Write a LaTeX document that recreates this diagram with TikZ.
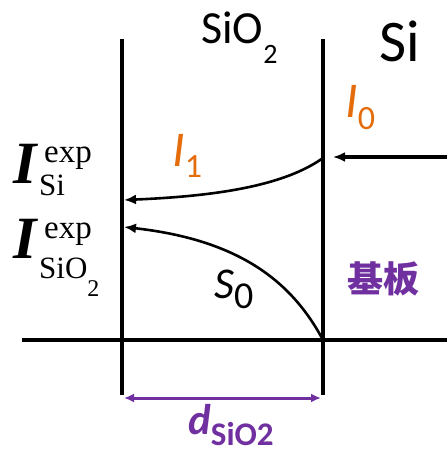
\documentclass[tikz,border=0pt]{standalone}
\usepackage{fontspec}
\setmainfont{Carlito}
\newfontfamily\tms{Liberation Serif}
\newfontfamily\cjk{Noto Sans CJK SC}
\usetikzlibrary{arrows.meta}
\definecolor{myorange}{RGB}{228,108,10}
\definecolor{mypurple}{RGB}{112,48,160}
\newcommand\fsz[1]{\fontsize{#1}{#1}\selectfont}
\begin{document}
\begin{tikzpicture}[x=1pt,y=-1pt,
  wall/.style={line width=4pt},
  ray/.style={line width=2.6pt,-{Latex[length=12pt,width=10pt]}},
  lbl/.style={inner sep=0pt,anchor=base west}]
\useasboundingbox (0,0) rectangle (447,454);
% walls
\coordinate (LT) at (122,39); \coordinate (LB) at (122,395);
\coordinate (RT) at (323,39); \coordinate (RB) at (323,395);
\coordinate (HL) at (22,340); \coordinate (HR) at (447,340);
\draw[wall] (LT) -- (LB);
\draw[wall] (RT) -- (RB);
\draw[wall] (HL) -- (HR);
% incoming beam
\coordinate (src) at (447,157); \coordinate (tip0) at (333,157);
\draw[ray,line width=4pt] (src) -- (tip0);
% I1 curve
\coordinate (r1) at (323,158); \coordinate (l1) at (124,200);
\draw[ray] (r1) .. controls (285,185) and (220,196) .. (l1);
% S0 curve
\coordinate (r2) at (323,340); \coordinate (l2) at (124,227);
\draw[ray] (r2) .. controls (292,282) and (240,240) .. (l2);
% dimension
\coordinate (d1) at (124,398); \coordinate (d2) at (321,398);
\draw[mypurple,line width=3pt,{Latex[length=10pt,width=9pt]}-{Latex[length=10pt,width=9pt]}] (d1) -- (d2);
% labels
\node[lbl] (tsio2) at (201,44) {\fsz{46}SiO\raisebox{-20pt}{\fsz{28}2}};
\node[lbl] (tsi) at (379,62) {\fsz{59}Si};
\node[lbl,text=myorange] (ti0) at (345,118) {\fsz{50}\itshape I\raisebox{-12pt}{\upshape\fsz{34}0}};
\node[lbl,text=myorange] (ti1) at (172,167) {\fsz{50}\itshape I\raisebox{-11pt}{\upshape\fsz{34}1}};
\node[lbl] (ts0) at (214,298) {\fsz{44}\itshape S\raisebox{-10pt}{\upshape\fsz{38}0}};
\node[lbl,text=mypurple] (tsub) at (347,292) {\cjk\bfseries\fsz{36}基板};
\node[lbl,text=mypurple] (td) at (188,434) {\bfseries\fsz{43}\itshape d\raisebox{-11pt}{\upshape\fsz{33}SiO2}};
% left labels
\node[lbl] (ia) at (13,183) {\tms\bfseries\itshape\fsz{60}I};
\node[lbl] (ia1) at (44,163) {\tms\fsz{33}exp};
\node[lbl] (ia2) at (39,195) {\tms\fsz{31}Si};
\node[lbl] (ib) at (13,258) {\tms\bfseries\itshape\fsz{60}I};
\node[lbl] (ib1) at (44,238) {\tms\fsz{33}exp};
\node[lbl] (ib2) at (39,278) {\tms\fsz{31}SiO\raisebox{-18pt}{\fsz{24}2}};
\end{tikzpicture}
\end{document}
